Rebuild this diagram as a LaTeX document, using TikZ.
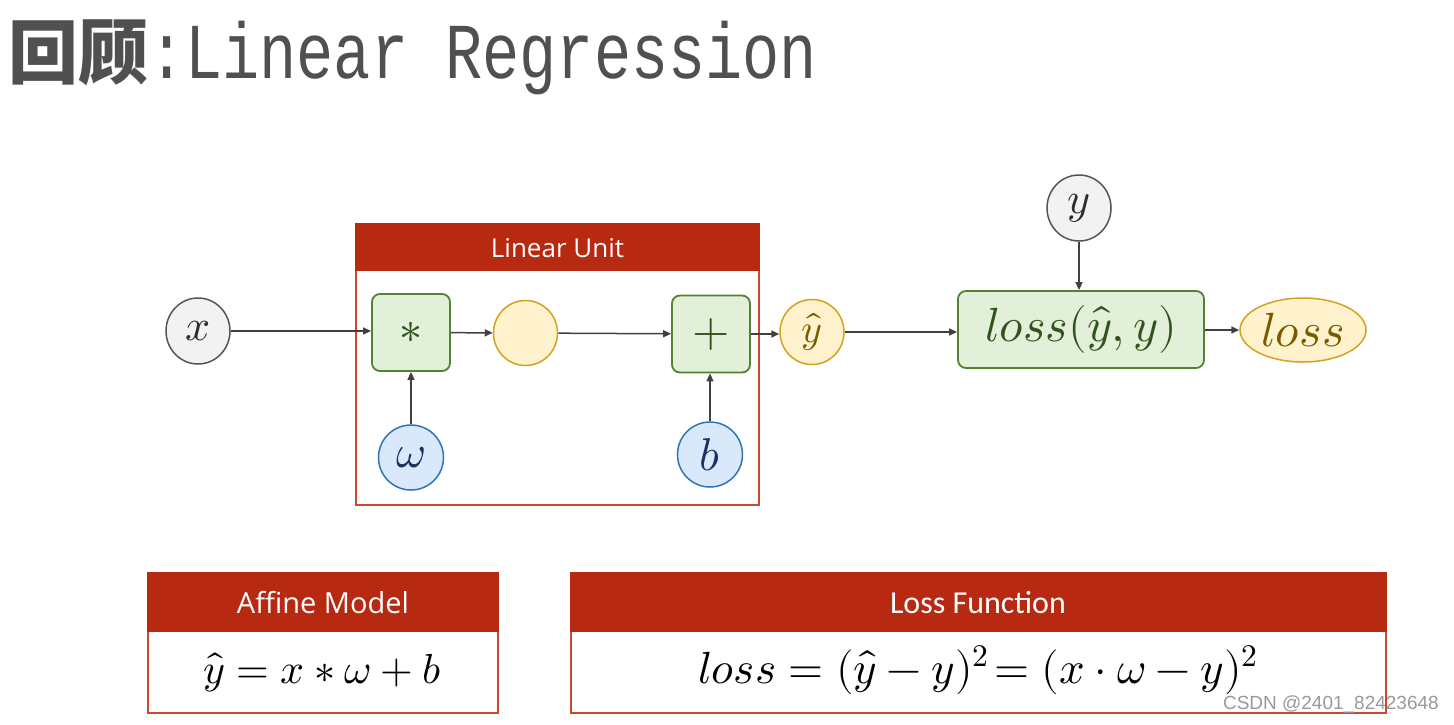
\documentclass[tikz,border=0pt]{standalone}
\usepackage{fontspec}
\usepackage{unicode-math}
\newfontfamily\cjkfont{Noto Sans CJK SC}
\newfontfamily\titlemono{Liberation Mono}
\newfontfamily\segfont{Open Sans}
\newfontfamily\calfont{Carlito}
\newfontfamily\wmfont{Liberation Sans}
\usetikzlibrary{arrows.meta,shapes.geometric}
\definecolor{hdr}{RGB}{183,41,17}
\definecolor{frm}{RGB}{205,70,50}
\definecolor{gfill}{RGB}{226,240,217}
\definecolor{gdraw}{RGB}{84,130,53}
\definecolor{gtext}{RGB}{50,82,30}
\definecolor{yfill}{RGB}{255,242,204}
\definecolor{ydraw}{RGB}{214,162,30}
\definecolor{ytext}{RGB}{120,90,0}
\definecolor{bfill}{RGB}{218,232,252}
\definecolor{bdraw}{RGB}{46,117,182}
\definecolor{btext}{RGB}{25,50,95}
\definecolor{cfill}{RGB}{242,242,242}
\definecolor{cdraw}{RGB}{85,85,85}
\definecolor{ctext}{RGB}{45,45,45}
\definecolor{arr}{RGB}{64,64,64}
\definecolor{ttl}{RGB}{80,80,80}
\tikzset{
  graynode/.style={ellipse, draw=cdraw, fill=cfill, line width=1.5pt, minimum width=64pt, minimum height=66pt, inner sep=0pt, text=ctext},
  bluenode/.style={ellipse, draw=bdraw, fill=bfill, line width=1.5pt, minimum width=65pt, minimum height=65pt, inner sep=0pt, text=btext},
  yellownode/.style={ellipse, draw=ydraw, fill=yfill, line width=1.5pt, minimum width=64pt, minimum height=65pt, inner sep=0pt, text=ytext},
  opbox/.style={rectangle, rounded corners=8pt, draw=gdraw, fill=gfill, line width=1.8pt, minimum width=78pt, minimum height=77pt, inner sep=0pt, text=gtext},
  conn/.style={draw=arr, line width=1.5pt, -{Triangle[length=8pt,width=7pt]}},
  hdrtext/.style={text=white, inner sep=0pt},
}
\begin{document}
\begin{tikzpicture}[x=1pt,y=-1pt]
\useasboundingbox[fill=white] (0,0) rectangle (1454,724);
% title
\node[anchor=base west, inner sep=0pt, text=ttl] (tcjk) at (8,78) {\fontsize{70}{70}\cjkfont\bfseries 回顾};
\node[anchor=base west, inner sep=0pt, text=ttl] (tlat) at (148,78) {\scalebox{0.86}[1.1]{\fontsize{72}{72}\titlemono :Linear Regression}};
% linear unit frame
\draw[frm, line width=1.5pt] (356,224) rectangle (759,505);
\fill[hdr] (355.25,223.25) rectangle (759.75,271);
\node[hdrtext] (lu) at (557.5,248) {\fontsize{26}{26}\segfont Linear Unit};
% nodes
\node[graynode] (x) at (198,331) {\fontsize{44}{44}\selectfont $x$};
\node[opbox] (mul) at (411,332.5) {\fontsize{46}{46}\selectfont $\ast$};
\node[yellownode] (mid) at (525.5,333) {};
\node[opbox] (add) at (711,334) {\fontsize{48}{48}\selectfont $+$};
\node[bluenode] (w) at (411,457.5) {\fontsize{46}{46}\selectfont $\omega$};
\node[bluenode] (b) at (710,454.5) {\fontsize{46}{46}\selectfont $b$};
\node[yellownode, minimum width=64pt] (yhat) at (812,332) {\fontsize{40}{40}\selectfont $\hat{y}$};
\node[graynode] (y) at (1079,208) {\fontsize{44}{44}\selectfont $y$};
\node[opbox, minimum width=246pt, minimum height=77pt] (lf) at (1081,329.5) {\fontsize{48}{48}\selectfont $loss(\hat{y},y)$};
\node[yellownode, minimum width=126pt, minimum height=64pt] (loss) at (1303,330) {\fontsize{48}{48}\selectfont $loss$};
% connectors
\draw[conn] (x) -- (x -| mul.west);
\draw[conn] (mul) -- (mid);
\draw[conn] (mid) -- (add);
\draw[conn] (add) -- (add -| yhat.west);
\draw[conn] (w) -- (mul);
\draw[conn] (b) -- (b |- add.south);
\draw[conn] (yhat) -- (yhat -| lf.west);
\draw[conn] (y) -- (y |- lf.north);
\draw[conn] (lf.east |- loss) -- (loss);
% affine model box
\draw[frm, line width=1.5pt] (148,573) rectangle (498,713);
\fill[hdr] (147.25,572.25) rectangle (498.75,632);
\node[hdrtext] (am) at (323,603) {\fontsize{29}{29}\segfont Affine Model};
\node[inner sep=0pt] (amf) at (322,672) {\fontsize{42}{42}\selectfont $\hat{y} = x \ast \omega + b$};
% loss function box
\draw[frm, line width=1.5pt] (571,573) rectangle (1386,713);
\fill[hdr] (570.25,572.25) rectangle (1386.75,632);
\node[hdrtext] (lfun) at (978,603) {\fontsize{32}{32}\calfont Loss Function};
\node[inner sep=0pt] (lff) at (978,670) {\fontsize{45}{45}\selectfont $loss = (\hat{y}-y)^{2}\!= (x\cdot\omega-y)^{2}$};
% watermark
\node[anchor=east, inner sep=0pt, text=black!40] (wm) at (1439,704) {\fontsize{19}{19}\wmfont CSDN @2401\_82423648};
\end{tikzpicture}
\end{document}
